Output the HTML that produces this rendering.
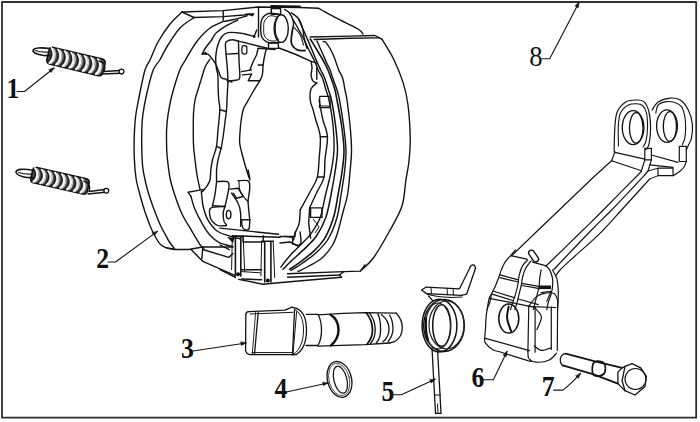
<!DOCTYPE html>
<html><head><meta charset="utf-8"><style>
html,body{margin:0;padding:0;background:#fff;}
body{width:700px;height:422px;overflow:hidden;}
svg{display:block;}
text{font-family:"Liberation Serif",serif;}
</style></head><body>
<svg width="700" height="422" viewBox="0 0 700 422" stroke-linecap="round" stroke-linejoin="round">
<rect x="0" y="0" width="700" height="422" fill="#fff"/>
<rect x="2.0" y="2.0" width="694.2" height="415.7" fill="none" stroke="#303030" stroke-width="1.8"/>
<text transform="translate(6.46,98.35) scale(0.92,1.05)" x="0" y="0" font-family="Liberation Serif" font-weight="bold" font-size="28" fill="#111">1</text>
<text transform="translate(96.28,267.85) scale(0.92,1.05)" x="0" y="0" font-family="Liberation Serif" font-weight="bold" font-size="28" fill="#111">2</text>
<text transform="translate(181.08,357.65) scale(0.92,1.05)" x="0" y="0" font-family="Liberation Serif" font-weight="bold" font-size="28" fill="#111">3</text>
<text transform="translate(274.50,398.25) scale(0.92,1.05)" x="0" y="0" font-family="Liberation Serif" font-weight="bold" font-size="28" fill="#111">4</text>
<text transform="translate(381.58,401.25) scale(0.92,1.05)" x="0" y="0" font-family="Liberation Serif" font-weight="bold" font-size="28" fill="#111">5</text>
<text transform="translate(471.38,387.45) scale(0.92,1.05)" x="0" y="0" font-family="Liberation Serif" font-weight="bold" font-size="28" fill="#111">6</text>
<text transform="translate(541.66,396.25) scale(0.92,1.05)" x="0" y="0" font-family="Liberation Serif" font-weight="bold" font-size="28" fill="#111">7</text>
<text transform="translate(529.25,66.25) scale(0.95,1.05)" x="0" y="0" font-family="Liberation Serif" font-weight="normal" font-size="28" fill="#111">8</text>
<path d="M17.0,91.5 L24.5,91.5 L54.0,68.0" stroke="#141414" stroke-width="1.1" fill="none" />
<path d="M54.0,68.0 L51.1,72.4 L49.0,69.8Z" fill="#111" stroke="#111" stroke-width="0.6"/>
<path d="M108.0,262.0 L115.5,262.0 L157.4,231.4" stroke="#141414" stroke-width="1.1" fill="none" />
<path d="M157.4,231.4 L154.4,235.7 L152.4,233.0Z" fill="#111" stroke="#111" stroke-width="0.6"/>
<path d="M193.0,351.0 L246.0,343.0" stroke="#141414" stroke-width="1.1" fill="none" />
<path d="M246.0,343.0 L241.3,345.4 L240.8,342.1Z" fill="#111" stroke="#111" stroke-width="0.6"/>
<path d="M286.4,392.0 L327.9,383.0" stroke="#141414" stroke-width="1.1" fill="none" />
<path d="M327.9,383.0 L323.4,385.7 L322.7,382.4Z" fill="#111" stroke="#111" stroke-width="0.6"/>
<path d="M392.8,394.7 L401.3,394.7 L435.1,379.3" stroke="#141414" stroke-width="1.1" fill="none" />
<path d="M435.1,379.3 L431.3,382.9 L429.8,379.8Z" fill="#111" stroke="#111" stroke-width="0.6"/>
<path d="M483.5,379.8 L493.4,379.8 L507.0,351.4" stroke="#141414" stroke-width="1.1" fill="none" />
<path d="M507.0,351.4 L506.4,356.6 L503.3,355.2Z" fill="#111" stroke="#111" stroke-width="0.6"/>
<path d="M553.6,390.1 L562.9,390.1 Q571,384 580.5,373.4" stroke="#141414" stroke-width="1.1" fill="none" />
<path d="M580.5,373.4 L578.4,378.3 L575.9,376.0Z" fill="#111" stroke="#111" stroke-width="0.6"/>
<path d="M541.7,58.7 L549.7,58.7 L579.0,2.5" stroke="#141414" stroke-width="1.1" fill="none" />
<path d="M579.0,2.5 L578.2,7.7 L575.2,6.1Z" fill="#111" stroke="#111" stroke-width="0.6"/>
<g transform="translate(48,54.9) rotate(13.4)"><rect x="0" y="-8.5" width="57.5" height="17" rx="3.5" fill="#4a4a4a" stroke="#111" stroke-width="1.6"/><path d="M1.7,-7.3 C6.8,-3.8 6.8,3.8 3.4,7.3" fill="none" stroke="#f6f6f6" stroke-width="2.3"/><path d="M3.8,-7.5 C8.4,-3.8 8.4,3.8 5.2,7.5" fill="none" stroke="#cfcfcf" stroke-width="1.1"/><path d="M0.0,-7.3 C4.4,-3.8 4.4,3.8 1.2,7.3" fill="none" stroke="#111" stroke-width="1.0"/><path d="M8.5,-7.3 C13.6,-3.8 13.6,3.8 10.2,7.3" fill="none" stroke="#f6f6f6" stroke-width="2.3"/><path d="M10.6,-7.5 C15.2,-3.8 15.2,3.8 12.0,7.5" fill="none" stroke="#cfcfcf" stroke-width="1.1"/><path d="M6.8,-7.3 C11.2,-3.8 11.2,3.8 8.0,7.3" fill="none" stroke="#111" stroke-width="1.0"/><path d="M15.3,-7.3 C20.4,-3.8 20.4,3.8 17.0,7.3" fill="none" stroke="#f6f6f6" stroke-width="2.3"/><path d="M17.4,-7.5 C22.0,-3.8 22.0,3.8 18.8,7.5" fill="none" stroke="#cfcfcf" stroke-width="1.1"/><path d="M13.6,-7.3 C18.0,-3.8 18.0,3.8 14.8,7.3" fill="none" stroke="#111" stroke-width="1.0"/><path d="M22.1,-7.3 C27.2,-3.8 27.2,3.8 23.8,7.3" fill="none" stroke="#f6f6f6" stroke-width="2.3"/><path d="M24.2,-7.5 C28.8,-3.8 28.8,3.8 25.6,7.5" fill="none" stroke="#cfcfcf" stroke-width="1.1"/><path d="M20.4,-7.3 C24.8,-3.8 24.8,3.8 21.6,7.3" fill="none" stroke="#111" stroke-width="1.0"/><path d="M28.9,-7.3 C34.0,-3.8 34.0,3.8 30.6,7.3" fill="none" stroke="#f6f6f6" stroke-width="2.3"/><path d="M31.1,-7.5 C35.6,-3.8 35.6,3.8 32.5,7.5" fill="none" stroke="#cfcfcf" stroke-width="1.1"/><path d="M27.2,-7.3 C31.6,-3.8 31.6,3.8 28.4,7.3" fill="none" stroke="#111" stroke-width="1.0"/><path d="M35.8,-7.3 C40.9,-3.8 40.9,3.8 37.5,7.3" fill="none" stroke="#f6f6f6" stroke-width="2.3"/><path d="M37.9,-7.5 C42.5,-3.8 42.5,3.8 39.3,7.5" fill="none" stroke="#cfcfcf" stroke-width="1.1"/><path d="M34.1,-7.3 C38.5,-3.8 38.5,3.8 35.3,7.3" fill="none" stroke="#111" stroke-width="1.0"/><path d="M42.6,-7.3 C47.7,-3.8 47.7,3.8 44.3,7.3" fill="none" stroke="#f6f6f6" stroke-width="2.3"/><path d="M44.7,-7.5 C49.3,-3.8 49.3,3.8 46.1,7.5" fill="none" stroke="#cfcfcf" stroke-width="1.1"/><path d="M40.9,-7.3 C45.3,-3.8 45.3,3.8 42.1,7.3" fill="none" stroke="#111" stroke-width="1.0"/><path d="M49.4,-7.3 C54.5,-3.8 54.5,3.8 51.1,7.3" fill="none" stroke="#f6f6f6" stroke-width="2.3"/><path d="M51.5,-7.5 C56.1,-3.8 56.1,3.8 52.9,7.5" fill="none" stroke="#cfcfcf" stroke-width="1.1"/><path d="M47.7,-7.3 C52.1,-3.8 52.1,3.8 48.9,7.3" fill="none" stroke="#111" stroke-width="1.0"/></g>
<g transform="translate(31.7,174.4) rotate(12.8)"><rect x="0" y="-7.8" width="58" height="15.6" rx="3.5" fill="#4a4a4a" stroke="#111" stroke-width="1.6"/><path d="M1.7,-6.6 C6.8,-3.5 6.8,3.5 3.4,6.6" fill="none" stroke="#f6f6f6" stroke-width="2.3"/><path d="M3.8,-6.8 C8.4,-3.5 8.4,3.5 5.2,6.8" fill="none" stroke="#cfcfcf" stroke-width="1.1"/><path d="M0.0,-6.6 C4.4,-3.5 4.4,3.5 1.2,6.6" fill="none" stroke="#111" stroke-width="1.0"/><path d="M8.6,-6.6 C13.7,-3.5 13.7,3.5 10.3,6.6" fill="none" stroke="#f6f6f6" stroke-width="2.3"/><path d="M10.7,-6.8 C15.3,-3.5 15.3,3.5 12.1,6.8" fill="none" stroke="#cfcfcf" stroke-width="1.1"/><path d="M6.9,-6.6 C11.3,-3.5 11.3,3.5 8.1,6.6" fill="none" stroke="#111" stroke-width="1.0"/><path d="M15.4,-6.6 C20.5,-3.5 20.5,3.5 17.1,6.6" fill="none" stroke="#f6f6f6" stroke-width="2.3"/><path d="M17.6,-6.8 C22.1,-3.5 22.1,3.5 18.9,6.8" fill="none" stroke="#cfcfcf" stroke-width="1.1"/><path d="M13.8,-6.6 C18.1,-3.5 18.1,3.5 14.9,6.6" fill="none" stroke="#111" stroke-width="1.0"/><path d="M22.3,-6.6 C27.4,-3.5 27.4,3.5 24.0,6.6" fill="none" stroke="#f6f6f6" stroke-width="2.3"/><path d="M24.4,-6.8 C29.0,-3.5 29.0,3.5 25.8,6.8" fill="none" stroke="#cfcfcf" stroke-width="1.1"/><path d="M20.6,-6.6 C25.0,-3.5 25.0,3.5 21.8,6.6" fill="none" stroke="#111" stroke-width="1.0"/><path d="M29.2,-6.6 C34.3,-3.5 34.3,3.5 30.9,6.6" fill="none" stroke="#f6f6f6" stroke-width="2.3"/><path d="M31.3,-6.8 C35.9,-3.5 35.9,3.5 32.7,6.8" fill="none" stroke="#cfcfcf" stroke-width="1.1"/><path d="M27.5,-6.6 C31.9,-3.5 31.9,3.5 28.7,6.6" fill="none" stroke="#111" stroke-width="1.0"/><path d="M36.1,-6.6 C41.2,-3.5 41.2,3.5 37.8,6.6" fill="none" stroke="#f6f6f6" stroke-width="2.3"/><path d="M38.2,-6.8 C42.8,-3.5 42.8,3.5 39.6,6.8" fill="none" stroke="#cfcfcf" stroke-width="1.1"/><path d="M34.4,-6.6 C38.8,-3.5 38.8,3.5 35.6,6.6" fill="none" stroke="#111" stroke-width="1.0"/><path d="M43.0,-6.6 C48.1,-3.5 48.1,3.5 44.7,6.6" fill="none" stroke="#f6f6f6" stroke-width="2.3"/><path d="M45.1,-6.8 C49.7,-3.5 49.7,3.5 46.5,6.8" fill="none" stroke="#cfcfcf" stroke-width="1.1"/><path d="M41.2,-6.6 C45.7,-3.5 45.7,3.5 42.5,6.6" fill="none" stroke="#111" stroke-width="1.0"/><path d="M49.8,-6.6 C54.9,-3.5 54.9,3.5 51.5,6.6" fill="none" stroke="#f6f6f6" stroke-width="2.3"/><path d="M51.9,-6.8 C56.5,-3.5 56.5,3.5 53.3,6.8" fill="none" stroke="#cfcfcf" stroke-width="1.1"/><path d="M48.1,-6.6 C52.5,-3.5 52.5,3.5 49.3,6.6" fill="none" stroke="#111" stroke-width="1.0"/></g>
<path d="M50,55.5 C44,56 35,54.5 33,51 C32.5,47.5 42,47.5 50,48.5" stroke="#141414" stroke-width="1.6" fill="none" />
<path d="M49,52 C44,52.3 38,51.5 35.5,50.5" stroke="#141414" stroke-width="1.1" fill="none" />
<path d="M99,61 C104,62 106,66 104,71.5 L120,70.5" stroke="#141414" stroke-width="1.4" fill="none" />
<path d="M102,74 L120.5,73.2" stroke="#141414" stroke-width="1.4" fill="none" />
<circle cx="121.5" cy="71.6" r="2.4" fill="#fff" stroke="#111" stroke-width="1.3"/>
<path d="M33,177.5 C27,178 18,176.5 16,172.5 C15.5,168.5 25,168.8 33,170.3" stroke="#141414" stroke-width="1.6" fill="none" />
<path d="M32,174 C27,174.3 21,173.3 18.5,172.5" stroke="#141414" stroke-width="1.1" fill="none" />
<path d="M84,181 C89,183 91,187 89,191.5 L104.5,189.5" stroke="#141414" stroke-width="1.4" fill="none" />
<path d="M88,194 L105,192.2" stroke="#141414" stroke-width="1.4" fill="none" />
<circle cx="106.3" cy="190.8" r="2.4" fill="#fff" stroke="#111" stroke-width="1.3"/>
<g transform="translate(339.5,379.4) rotate(-14)"><ellipse cx="0" cy="0" rx="12" ry="18.2" fill="none" stroke="#111" stroke-width="1.3"/><ellipse cx="-0.3" cy="0" rx="10.2" ry="16.4" fill="none" stroke="#333" stroke-width="0.8"/><ellipse cx="0.8" cy="0.5" rx="6.5" ry="13.8" fill="none" stroke="#111" stroke-width="1.2"/></g>
<path d="M248.5,311.6 Q245.8,311.8 245.8,315 L245.6,350 Q246,354.6 251,354.7" stroke="#141414" stroke-width="1.3" fill="none" />
<path d="M258.2,312.5 L254.5,354.5" stroke="#141414" stroke-width="1.3" fill="none" />
<path d="M255.6,312.5 L252.3,354" stroke="#141414" stroke-width="0.9" fill="none" />
<path d="M296.6,311.8 L292.9,355.5" stroke="#141414" stroke-width="1.0" fill="none" />
<path d="M248.5,311.6 L285,310.2 L292,307.2 L296.4,308.3" stroke="#141414" stroke-width="1.3" fill="none" />
<path d="M250,314 L293,312.3" stroke="#141414" stroke-width="1.0" fill="none" />
<path d="M252,352.6 L293,352.6" stroke="#141414" stroke-width="1.0" fill="none" />
<path d="M251,354.7 L296,354.7" stroke="#141414" stroke-width="1.3" fill="none" />
<path d="M294.5,310.5 L292.5,354.2" stroke="#141414" stroke-width="1.3" fill="none" />
<path d="M296.4,308.3 C303,311 306.5,318 306.5,330 C306.5,343 302,351 296,354.7" stroke="#141414" stroke-width="1.3" fill="none" />
<path d="M294,309 C300,312 303.5,319 303.5,330 C303.5,342 299.5,350 294,354" stroke="#141414" stroke-width="1.0" fill="none" />
<path d="M306.3,314.3 L318,314.3 C320.5,319 321.5,324 321.5,330 C321.5,336 320.5,341 318,345.5 L306,345.5" stroke="#141414" stroke-width="1.3" fill="none" />
<path d="M318,314.9 L343,313.4 L364.7,312.6 L396.2,313.2" stroke="#141414" stroke-width="1.3" fill="none" />
<path d="M318,346.2 L364.7,344.7 L389.6,343" stroke="#141414" stroke-width="1.3" fill="none" />
<path d="M330.5,314.8 C336,318 338.5,324 338.5,330 C338.5,336 336,341 331,345.5" stroke="#141414" stroke-width="2.4" fill="none" />
<path d="M366.4,313 C370.5,318 372.5,324 372.5,330 C372.5,336 370.5,340 367.5,343.5" stroke="#141414" stroke-width="1.8" fill="none" />
<path d="M369.5,313.2 C373.5,318 375.2,324 375.2,330 C375.2,336 373.5,340 370.5,343.5" stroke="#141414" stroke-width="1.3" fill="none" />
<path d="M377.8,313.6 C380,318 380.6,324 380.6,330 C380.6,336 379,340 376.3,343" stroke="#141414" stroke-width="1.3" fill="none" />
<path d="M381.3,314.5 C386,318 389,323 389,329 C389,335 386.5,339 383,341.8" stroke="#141414" stroke-width="1.3" fill="none" />
<path d="M389.6,315 C392,319 393,324 393,329 C393,334 391,338 388,341.8" stroke="#141414" stroke-width="1.3" fill="none" />
<path d="M396.2,313.2 C400,317 402.3,322 402.3,328 C402.3,334 399,339 394.6,341.6 L389.6,343" stroke="#141414" stroke-width="1.3" fill="none" />
<path d="M426,287.2 L459.5,288.8 L470.3,267" stroke="#141414" stroke-width="1.3" fill="none" />
<path d="M426.5,293.6 L461.5,295.4" stroke="#141414" stroke-width="1.3" fill="none" />
<path d="M461.5,295.4 L466.6,294.2 L475.5,268.2" stroke="#141414" stroke-width="1.3" fill="none" />
<path d="M470.3,267 C471,264 475,264 475.5,268.2" stroke="#141414" stroke-width="1.3" fill="none" />
<path d="M426,287.2 L421.5,290 L426.5,293.6" stroke="#141414" stroke-width="1.3" fill="none" />
<path d="M431,287.6 L431.5,293.8" stroke="#141414" stroke-width="1.0" fill="none" />
<path d="M447,288.3 L447.5,294.8" stroke="#141414" stroke-width="1.0" fill="none" />
<path d="M453,288.6 L453.5,295" stroke="#141414" stroke-width="1.0" fill="none" />
<path d="M427,294 C432,296 440,297 452,297.5 L462,297" stroke="#141414" stroke-width="1.1" fill="none" />
<path d="M428.5,296 L433,301" stroke="#141414" stroke-width="1.2" fill="none" />
<ellipse cx="439.5" cy="325.6" rx="17.4" ry="26.4" fill="none" stroke="#111" stroke-width="1.5"/>
<ellipse cx="444" cy="325.5" rx="20.3" ry="26" fill="none" stroke="#111" stroke-width="1.5"/>
<ellipse cx="446.5" cy="325" rx="17.5" ry="24" fill="none" stroke="#222" stroke-width="1.2"/>
<ellipse cx="441.7" cy="325.5" rx="9" ry="20.8" fill="none" stroke="#111" stroke-width="1.5"/>
<ellipse cx="438" cy="326" rx="12.5" ry="23" fill="none" stroke="#222" stroke-width="1.2"/>
<path d="M426,318 C425.5,326 426,334 428,340" fill="none" stroke="#111" stroke-width="2.2"/>
<path d="M432,348 L435.5,413.3" stroke="#141414" stroke-width="1.3" fill="none" />
<path d="M437.5,349 L441,413.3" stroke="#141414" stroke-width="1.3" fill="none" />
<path d="M435.5,413.3 L441,413.3" stroke="#141414" stroke-width="1.3" fill="none" />
<path d="M437.5,404 L438,413" stroke="#141414" stroke-width="1.0" fill="none" />
<path d="M434.8,395 L440.5,395" stroke="#141414" stroke-width="1.0" fill="none" />
<path d="M182.0,12.0C180.0,14.0 174.0,19.0 170.0,24.0C166.0,29.0 161.3,36.0 158.0,42.0C154.7,48.0 152.2,55.3 150.0,60.0C147.8,64.7 146.8,64.2 145.0,70.0C143.2,75.8 141.0,87.5 139.5,95.0C138.0,102.5 136.7,108.3 135.8,115.0C134.9,121.7 134.6,127.8 134.3,135.0C134.1,142.2 134.0,150.8 134.3,158.0C134.6,165.2 135.1,171.8 136.0,178.0C136.9,184.2 138.5,189.3 140.0,195.0C141.5,200.7 143.2,206.5 145.0,212.0C146.8,217.5 149.2,223.7 151.0,228.0C152.8,232.3 154.4,235.2 156.0,238.0C157.6,240.8 158.8,242.9 160.5,244.5C162.2,246.1 164.1,247.0 166.5,247.8C168.9,248.6 173.6,249.0 175.0,249.2" stroke="#141414" stroke-width="1.4" fill="none" />
<path d="M194.0,17.5C191.7,19.2 184.3,23.4 180.0,28.0C175.7,32.6 171.4,39.7 168.0,45.0C164.6,50.3 162.3,55.8 159.8,60.0C157.3,64.2 155.4,64.2 153.2,70.0C151.0,75.8 148.3,87.0 146.5,95.0C144.7,103.0 143.3,110.5 142.5,118.0C141.7,125.5 141.7,132.2 141.7,140.0C141.7,147.8 141.9,158.0 142.5,165.0C143.1,172.0 144.4,177.0 145.5,182.0C146.6,187.0 147.4,190.0 149.0,195.0C150.6,200.0 153.1,206.9 155.0,212.0C156.9,217.1 158.8,221.8 160.5,225.5C162.2,229.2 163.6,231.4 165.0,234.0C166.4,236.6 167.3,238.7 168.8,241.0C170.3,243.3 173.1,246.8 174.0,248.0" stroke="#141414" stroke-width="1.4" fill="none" />
<path d="M182.0,12.0 L194.0,17.5" stroke="#141414" stroke-width="1.4" fill="none" />
<path d="M182.0,12.0 L223.0,10.6 L258.0,7.0 L280.0,7.2 L300.0,7.5 L318.2,8.3" stroke="#141414" stroke-width="1.4" fill="none" />
<path d="M318.2,8.3C318.8,8.6 318.6,8.3 321.6,10.0C324.7,11.7 330.4,15.0 336.5,18.2C342.6,21.4 353.6,26.4 358.0,29.0C362.4,31.6 362.2,33.2 363.0,34.0" stroke="#141414" stroke-width="1.4" fill="none" />
<path d="M194.0,17.5 L223.0,16.6 L244.0,15.0 L253.0,14.1" stroke="#141414" stroke-width="1.4" fill="none" />
<path d="M223.2,10.8 L223.2,20.7" stroke="#141414" stroke-width="1.4" fill="none" />
<path d="M224.0,21.4C225.7,21.1 230.2,20.4 234.0,19.5C237.8,18.6 244.8,16.3 247.0,15.7" stroke="#141414" stroke-width="1.4" fill="none" />
<path d="M244.5,13.5 L254.5,13.2 L253,16.6 Z" fill="#111"/>
<path d="M222.9,21.6C220.8,22.7 214.2,24.9 210.0,28.0C205.8,31.1 201.3,36.0 198.0,40.0C194.7,44.0 192.1,48.7 190.0,52.0C187.9,55.3 187.2,57.0 185.5,60.0C183.8,63.0 182.1,64.2 179.8,70.0C177.6,75.8 174.0,87.5 172.0,95.0C170.0,102.5 168.9,109.2 168.0,115.0C167.1,120.8 166.8,125.0 166.6,130.0C166.4,135.0 166.5,140.3 166.6,145.0C166.7,149.7 166.7,152.5 167.3,158.0C167.9,163.5 168.8,171.8 170.0,178.0C171.2,184.2 172.8,189.1 174.8,195.0C176.7,200.9 179.1,207.8 181.9,213.7C184.7,219.6 188.2,225.0 191.4,230.3C194.6,235.6 198.7,242.8 200.8,245.7C202.9,248.6 203.5,247.6 204.0,248.0" stroke="#141414" stroke-width="1.4" fill="none" />
<path d="M237.7,20.0C235.9,20.9 230.6,23.2 227.0,25.3C223.4,27.4 218.9,30.3 216.3,32.8C213.7,35.2 213.4,37.4 211.5,40.0C209.6,42.6 206.7,46.1 205.1,48.5C203.5,50.9 202.7,53.2 202.2,54.2" stroke="#141414" stroke-width="1.4" fill="none" />
<path d="M210.0,59.2C209.2,60.5 206.5,63.8 205.1,67.0C203.7,70.2 202.7,74.6 201.5,78.4C200.3,82.2 199.1,86.2 198.0,89.8C196.9,93.3 195.8,96.0 195.1,99.7C194.4,103.4 193.9,107.5 193.6,112.0C193.3,116.5 193.3,120.9 193.3,126.4C193.3,131.9 193.2,139.5 193.5,145.0C193.8,150.5 194.4,154.5 195.0,159.5C195.6,164.5 196.2,170.0 197.0,175.0C197.8,180.0 199.5,187.0 200.0,189.4" stroke="#141414" stroke-width="1.4" fill="none" />
<path d="M201.5,53.5 L206,51.8 L207.5,55 Z" fill="#111"/>
<path d="M202.2,54.2C203.1,54.2 206.1,53.2 207.9,54.2C209.7,55.2 211.5,58.0 212.9,59.9C214.3,61.8 215.5,63.7 216.4,65.6C217.3,67.5 217.8,69.3 218.6,71.3C219.4,73.3 220.1,76.4 221.4,77.7C222.7,79.0 225.6,78.9 226.4,79.1" stroke="#141414" stroke-width="1.4" fill="none" />
<path d="M226.4,79.8 L232.0,82.0" stroke="#141414" stroke-width="1.4" fill="none" />
<path d="M166.0,247.6 L174.1,249.5 L188.5,249.5 L202.8,247.0 L233.0,247.0" stroke="#141414" stroke-width="1.4" fill="none" />
<path d="M202.8,249.5 L228.8,257.4 L232.8,253.5" stroke="#141414" stroke-width="1.4" fill="none" />
<path d="M202.8,247.0 L201.8,259.0" stroke="#141414" stroke-width="1.4" fill="none" />
<path d="M191.0,249.5 L200.2,258.7 L202.8,261.3 L235.4,275.6" stroke="#141414" stroke-width="1.4" fill="none" />
<path d="M190.9,196.1C191.5,198.2 192.7,203.8 194.6,208.4C196.5,213.0 199.7,219.2 202.2,223.6C204.7,228.0 207.0,231.8 209.8,235.0C212.7,238.2 215.5,240.7 219.3,242.6C223.1,244.5 230.4,245.8 232.6,246.4" stroke="#141414" stroke-width="1.4" fill="none" />
<path d="M201.3,191.4C201.6,193.9 202.1,201.8 203.2,206.5C204.3,211.2 205.5,215.7 207.9,219.8C210.3,223.9 213.3,228.3 217.4,231.2C221.5,234.0 228.8,235.6 232.6,236.9C236.4,238.2 238.8,238.5 240.0,238.8" stroke="#141414" stroke-width="1.4" fill="none" />
<path d="M190.9,196.1 L188.0,192.3 L198.4,190.4 L203.2,189.5" stroke="#141414" stroke-width="1.4" fill="none" />
<path d="M227,237 L234.5,238 L233,243 Z" fill="#111"/>
<path d="M254.1,36.5C251.9,36.0 245.4,33.9 241.1,33.3C236.8,32.6 231.3,32.0 228.0,32.6C224.7,33.2 223.2,34.8 221.5,37.0C219.8,39.2 218.6,42.4 217.6,45.7C216.6,49.1 215.9,53.3 215.7,57.1C215.5,60.9 216.0,65.3 216.4,68.4C216.8,71.5 217.6,72.0 217.9,75.6C218.2,79.2 218.0,85.9 218.2,90.0C218.3,94.1 218.5,96.7 218.8,100.0C219.1,103.3 219.9,104.8 219.8,109.8C219.7,114.8 218.6,123.9 218.0,130.0C217.4,136.1 217.4,141.3 216.5,146.3C215.6,151.3 213.4,156.1 212.5,160.0C211.6,163.9 211.2,166.7 210.8,170.0C210.4,173.3 210.7,177.2 210.0,180.0C209.3,182.8 207.8,184.7 206.6,186.6C205.3,188.5 203.2,190.8 202.5,191.6" stroke="#141414" stroke-width="1.4" fill="none" />
<path d="M254.1,36.5 L256.7,30.0" stroke="#141414" stroke-width="1.4" fill="none" />
<circle cx="254.1" cy="36.5" r="1.4" fill="#111"/>
<path d="M228.0,82.2C227.9,80.0 227.7,73.7 227.4,69.1C227.1,64.6 226.4,58.9 226.1,54.8C225.8,50.7 225.3,46.6 225.4,44.3C225.5,42.1 225.7,42.2 226.7,41.5C227.8,40.7 230.0,39.8 232.0,39.8C233.9,39.7 237.4,40.9 238.5,41.1" stroke="#141414" stroke-width="1.4" fill="none" />
<path d="M238.5,41.1 L267.2,48.3" stroke="#141414" stroke-width="1.4" fill="none" />
<path d="M226.1,54.1 L237.8,53.5" stroke="#141414" stroke-width="1.4" fill="none" />
<path d="M238.5,42.4C238.6,45.8 238.9,57.3 239.1,62.6C239.3,67.9 239.9,71.5 239.8,74.3C239.7,77.2 240.4,78.5 238.5,79.6C236.5,80.6 229.8,80.6 228.0,80.9" stroke="#141414" stroke-width="1.4" fill="none" />
<rect x="241.9" y="45.7" width="5" height="8.4" rx="2.3" fill="none" stroke="#111" stroke-width="1.2"/>
<path d="M258.0,48.3 L275.0,49.6" stroke="#141414" stroke-width="1.4" fill="none" />
<path d="M228.0,82.2C227.8,85.2 227.2,95.4 227.0,100.0C226.8,104.6 227.0,104.8 226.5,109.8C226.0,114.8 224.8,123.9 224.0,130.0C223.2,136.1 222.5,141.3 221.5,146.3C220.5,151.3 218.8,156.1 218.0,160.0C217.2,163.9 216.8,166.4 216.6,170.0C216.4,173.6 216.6,179.7 216.6,181.6" stroke="#141414" stroke-width="1.4" fill="none" />
<path d="M219.8,109.8 L226.5,111.5" stroke="#141414" stroke-width="1.4" fill="none" />
<path d="M216.5,146.3 L221.5,148.5" stroke="#141414" stroke-width="1.4" fill="none" />
<path d="M266.5,48.5C266.2,49.6 265.4,52.2 264.8,55.0C264.2,57.8 263.5,61.7 263.1,65.0C262.7,68.3 262.9,72.3 262.3,74.9C261.8,77.5 261.3,77.9 259.8,80.7C258.3,83.5 255.4,87.8 253.2,91.5C251.0,95.2 248.3,100.1 246.6,103.1C244.9,106.1 244.1,106.9 243.2,109.7C242.3,112.5 241.7,116.6 241.2,120.0C240.7,123.4 240.4,126.2 240.2,130.0C239.9,133.8 239.3,138.7 239.7,143.0C240.1,147.3 241.5,151.6 242.6,156.0C243.7,160.4 245.3,165.9 246.4,169.5C247.5,173.1 248.4,175.8 249.0,177.6C249.6,179.3 249.8,179.6 250.0,180.0" stroke="#141414" stroke-width="1.4" fill="none" />
<path d="M241.6,71.6 L251.5,69.9" stroke="#141414" stroke-width="1.4" fill="none" />
<path d="M242.4,74.9 L251.5,74.1" stroke="#141414" stroke-width="1.4" fill="none" />
<path d="M249.9,69.9 L253.0,62.0 L256.5,55.0 L258.0,49.0" stroke="#141414" stroke-width="1.4" fill="none" />
<path d="M251.5,74.1 L248.2,80.7 L259.8,80.7" stroke="#141414" stroke-width="1.4" fill="none" />
<path d="M258.2,65.0 L263.1,65.0" stroke="#141414" stroke-width="1.4" fill="none" />
<path d="M279.0,48.0 L296.0,54.5 L311.1,61.3 L316.8,63.1" stroke="#141414" stroke-width="1.4" fill="none" />
<path d="M311.1,61.3C311.2,62.4 312.0,65.5 312.0,67.9C312.0,70.3 310.9,73.3 311.1,75.5C311.3,77.7 312.1,79.8 313.0,81.1C313.9,82.3 316.2,82.7 316.8,83.0" stroke="#141414" stroke-width="1.4" fill="none" />
<path d="M316.8,83.0C315.9,84.0 312.2,85.9 311.1,88.7C310.0,91.5 309.9,96.5 310.2,100.0C310.5,103.5 312.1,106.3 313.0,109.5C313.9,112.7 314.3,114.5 315.5,119.0C316.7,123.5 319.7,130.0 320.3,136.7C320.9,143.4 319.6,152.4 319.1,159.2C318.6,166.0 318.7,172.1 317.2,177.6C315.7,183.1 312.8,186.6 310.0,192.0C307.2,197.4 301.8,206.8 300.2,209.8" stroke="#141414" stroke-width="1.4" fill="none" />
<path d="M316.8,67.9 L316.8,79.2" stroke="#141414" stroke-width="1.4" fill="none" />
<path d="M319.1,100.0C319.7,103.2 321.3,112.9 322.7,119.0C324.1,125.1 327.0,130.0 327.4,136.7C327.8,143.4 325.6,152.4 325.0,159.2C324.4,166.0 325.2,172.1 323.9,177.6C322.6,183.1 319.4,186.9 317.0,192.0C314.6,197.1 310.8,205.2 309.6,207.9" stroke="#141414" stroke-width="1.4" fill="none" />
<path d="M320.3,136.7 L327.4,136.7" stroke="#141414" stroke-width="1.4" fill="none" />
<path d="M319.0,106.0 L329.8,106.0" stroke="#141414" stroke-width="1.0" fill="none" />
<path d="M317.9,177.0 L323.8,177.0" stroke="#141414" stroke-width="1.4" fill="none" />
<path d="M310.6,207.9 L322.0,207.9 L322.0,217.4 L310.6,217.4Z" stroke="#141414" stroke-width="1.4" fill="none" />
<path d="M300.2,209.8C300.0,212.0 300.0,219.3 299.2,223.1C298.4,226.9 296.3,229.8 295.4,232.6C294.4,235.4 293.8,238.8 293.5,240.1" stroke="#141414" stroke-width="1.4" fill="none" />
<path d="M285.0,236.4 L292.6,237.3 L292.6,243.9 L299.2,245.8" stroke="#141414" stroke-width="1.4" fill="none" />
<path d="M309.6,207.9 L308.7,223.1 L310.6,238.2" stroke="#141414" stroke-width="1.4" fill="none" />
<path d="M313.4,219.3 L319.1,226.9 L315.3,232.6" stroke="#141414" stroke-width="1.0" fill="none" />
<path d="M319.7,96.3 L330.1,96.3 L330.1,107.7 L319.7,107.7 Z" fill="none" stroke="#111" stroke-width="1.2"/>
<path d="M216.6,181.6C218.4,181.6 225.3,180.8 227.4,181.6C229.4,182.4 229.2,183.5 229.0,186.6C228.9,189.6 227.2,196.5 226.5,199.9C225.8,203.2 225.2,205.4 224.9,206.5" stroke="#141414" stroke-width="1.4" fill="none" />
<path d="M216.6,181.6C216.3,183.8 215.6,190.9 214.9,194.9C214.2,198.9 212.9,203.9 212.4,205.7" stroke="#141414" stroke-width="1.4" fill="none" />
<path d="M212.4,205.7 L224.9,206.5" stroke="#141414" stroke-width="1.4" fill="none" />
<path d="M224.9,206.5C222.5,206.8 213.3,206.5 210.8,208.1C208.3,209.8 209.7,214.2 210.0,216.4C210.2,218.6 211.1,219.9 212.4,221.4C213.8,222.9 215.9,224.9 218.2,225.6C220.6,226.2 225.2,225.6 226.5,225.6" stroke="#141414" stroke-width="1.4" fill="none" />
<path d="M224.9,206.5C224.6,207.6 223.4,210.6 223.2,213.1C223.1,215.6 223.5,219.5 224.0,221.4C224.6,223.3 226.1,224.2 226.5,224.7" stroke="#141414" stroke-width="1.4" fill="none" />
<ellipse cx="228.6" cy="214.6" rx="2.3" ry="4.2" fill="none" stroke="#111" stroke-width="1.4"/>
<path d="M229.9,189.1 L238.1,188.2 L243.1,196.5 L236.5,198.2 L233.2,193.2" stroke="#141414" stroke-width="1.4" fill="none" />
<path d="M231.5,193.2C232.6,194.9 236.6,199.9 238.1,203.2C239.7,206.5 240.2,209.2 240.6,213.1C241.0,217.0 240.6,224.2 240.6,226.4" stroke="#141414" stroke-width="1.4" fill="none" />
<path d="M238.1,180.8C239.8,180.8 246.2,179.8 248.1,180.8C250.0,181.7 249.6,184.2 249.8,186.6C249.9,188.9 249.2,192.4 248.9,194.9C248.6,197.4 248.1,198.7 248.1,201.5C248.1,204.3 248.6,208.4 248.9,211.5C249.2,214.5 249.6,218.4 249.8,219.8" stroke="#141414" stroke-width="1.4" fill="none" />
<path d="M239.0,181.6C239.1,183.0 238.8,187.1 239.8,189.9C240.8,192.7 243.4,196.3 244.8,198.2C246.2,200.1 247.5,201.0 248.1,201.5" stroke="#141414" stroke-width="1.1" fill="none" />
<path d="M241.5,219.8 L249.8,219.8" stroke="#141414" stroke-width="1.4" fill="none" />
<path d="M241.5,219.8C241.6,220.9 241.7,224.7 242.3,226.4C242.8,228.0 243.7,229.3 244.8,229.7C245.9,230.1 248.1,230.5 248.9,228.9C249.8,227.2 249.6,221.3 249.8,219.8" stroke="#141414" stroke-width="1.4" fill="none" />
<path d="M248.1,170.0 L249.8,178.3" stroke="#141414" stroke-width="1.4" fill="none" />
<path d="M278.0,14.0C276.4,13.9 271.2,12.7 268.5,13.5C265.8,14.3 263.3,16.5 262.0,19.0C260.7,21.5 260.7,25.3 260.7,28.4C260.7,31.5 260.7,35.1 262.0,37.5C263.3,39.9 265.8,41.8 268.5,42.7C271.2,43.6 276.4,43.0 278.0,43.0" stroke="#141414" stroke-width="1.4" fill="none" />
<path d="M276.0,16.5C274.9,16.4 271.4,15.2 269.5,16.0C267.6,16.8 265.5,18.9 264.5,21.0C263.5,23.1 263.7,25.9 263.7,28.4C263.7,30.9 263.5,34.0 264.5,36.0C265.5,38.0 267.6,39.7 269.5,40.5C271.4,41.3 274.9,40.9 276.0,41.0" stroke="#141414" stroke-width="1.0" fill="none" />
<ellipse cx="281.2" cy="28.6" rx="7.1" ry="13.8" fill="none" stroke="#111" stroke-width="1.4"/>
<path d="M278.0,17.0C277.6,17.8 276.2,20.1 275.8,22.0C275.4,23.9 275.3,26.3 275.3,28.5C275.3,30.7 275.5,33.1 276.0,35.0C276.5,36.9 278.1,39.2 278.5,40.0" stroke="#141414" stroke-width="1.1" fill="none" />
<path d="M271.3,8.5 L280.6,8.5 L280.6,14.2 L271.3,14.2Z" stroke="#141414" stroke-width="1.4" fill="none" />
<path d="M268.5,42.7 L278.4,42.7 L278.4,48.4 L268.5,48.4Z" stroke="#141414" stroke-width="1.4" fill="none" />
<path d="M258.5,7.0 L258.5,37.0" stroke="#141414" stroke-width="1.4" fill="none" />
<path d="M271.3,5.9 L299.8,6.4" stroke="#141414" stroke-width="2.0" fill="none" />
<path d="M291.3,12.8C292.5,13.8 296.5,15.9 298.4,18.5C300.3,21.1 301.7,25.3 302.6,28.4C303.5,31.5 303.3,33.7 304.0,37.0C304.7,40.3 306.4,46.5 306.9,48.4" stroke="#141414" stroke-width="1.4" fill="none" />
<path d="M292.7,28.4C292.5,30.8 290.6,39.1 291.3,42.7C292.0,46.3 294.7,48.5 297.0,49.8C299.3,51.1 303.7,50.4 305.0,50.5" stroke="#141414" stroke-width="1.8" fill="none" />
<path d="M293.5,27.0C294.6,28.2 298.1,31.1 299.8,34.1C301.5,37.1 302.9,43.2 303.5,45.0" stroke="#141414" stroke-width="1.1" fill="none" />
<path d="M284.7,9.5C285.5,10.1 288.0,10.9 289.5,13.0C291.0,15.1 293.0,19.4 293.5,22.0C294.0,24.6 292.8,27.3 292.7,28.4" stroke="#141414" stroke-width="1.4" fill="none" />
<path d="M293.3,20.0C294.9,22.8 300.1,32.0 302.7,37.0C305.3,42.0 306.9,45.8 309.0,50.0C311.1,54.2 313.5,58.7 315.0,62.0C316.5,65.3 316.9,67.3 318.1,70.0C319.3,72.7 321.1,74.7 322.4,78.0C323.7,81.3 324.9,86.3 326.0,90.0C327.1,93.7 327.8,94.2 329.0,100.0C330.2,105.8 332.2,116.7 333.0,125.0C333.8,133.3 334.3,142.2 334.0,150.0C333.7,157.8 332.4,164.5 331.0,172.0C329.6,179.5 327.3,187.4 325.5,195.0C323.7,202.6 322.6,211.1 320.2,217.5C317.8,223.9 314.4,228.8 311.2,233.3C308.0,237.8 304.6,240.8 301.0,244.5C297.4,248.2 293.2,252.0 289.8,255.8C286.4,259.6 282.3,265.2 280.8,267.1" stroke="#141414" stroke-width="1.4" fill="none" />
<path d="M299.0,20.0C300.2,22.8 304.3,32.0 306.5,37.0C308.7,42.0 310.2,45.8 312.0,50.0C313.8,54.2 315.6,58.7 317.0,62.0C318.4,65.3 319.4,67.3 320.7,70.0C322.0,72.7 323.3,74.7 324.6,78.0C325.9,81.3 327.4,86.3 328.5,90.0C329.6,93.7 330.3,94.2 331.5,100.0C332.7,105.8 334.5,116.7 335.5,125.0C336.5,133.3 337.6,142.2 337.5,150.0C337.4,157.8 336.1,164.5 335.0,172.0C333.9,179.5 332.5,187.4 331.0,195.0C329.5,202.6 328.2,210.8 325.8,217.5C323.4,224.2 320.2,230.4 316.8,235.5C313.4,240.6 309.6,243.8 305.5,247.9C301.4,252.0 295.8,256.7 292.0,260.3C288.2,263.9 284.5,267.8 283.0,269.3" stroke="#141414" stroke-width="1.5" fill="none" />
<path d="M310.3,39.0C311.4,40.8 314.7,46.2 317.0,50.0C319.3,53.8 322.3,58.7 324.1,62.0C325.9,65.3 326.9,67.3 328.0,70.0C329.1,72.7 329.8,74.7 331.0,78.0C332.2,81.3 334.0,86.3 335.0,90.0C336.0,93.7 335.9,94.2 337.0,100.0C338.1,105.8 340.3,116.7 341.5,125.0C342.7,133.3 343.9,142.2 344.0,150.0C344.1,157.8 343.0,164.5 342.0,172.0C341.0,179.5 339.4,187.4 338.0,195.0C336.6,202.6 335.7,210.4 333.5,217.5C331.3,224.6 328.3,232.2 325.0,237.8C321.7,243.4 317.8,247.2 313.5,251.3C309.2,255.4 303.5,259.6 299.5,262.6C295.5,265.6 291.2,268.2 289.5,269.3" stroke="#141414" stroke-width="1.6" fill="none" />
<path d="M317.0,41.0C317.7,42.5 319.4,46.5 321.0,50.0C322.6,53.5 324.8,58.7 326.3,62.0C327.8,65.3 329.0,67.3 330.1,70.0C331.2,72.7 331.6,74.7 332.7,78.0C333.8,81.3 335.9,86.3 337.0,90.0C338.1,93.7 338.4,94.2 339.5,100.0C340.6,105.8 342.4,116.7 343.5,125.0C344.6,133.3 345.8,142.2 346.0,150.0C346.2,157.8 345.3,164.5 344.5,172.0C343.7,179.5 342.2,187.4 341.0,195.0C339.8,202.6 339.1,210.2 337.0,217.5C334.9,224.8 331.8,232.8 328.5,238.5C325.2,244.2 321.4,247.8 317.0,252.0C312.6,256.2 306.3,260.4 302.0,263.5C297.7,266.6 292.8,269.3 291.0,270.5" stroke="#141414" stroke-width="1.4" fill="none" />
<path d="M323.2,41.5C323.8,41.8 324.8,40.9 326.5,43.1C328.2,45.3 331.2,50.2 333.2,54.7C335.2,59.2 337.1,66.1 338.7,70.0C340.3,73.9 341.6,74.7 342.6,78.0C343.7,81.3 344.3,86.3 345.0,90.0C345.7,93.7 346.2,94.2 347.0,100.0C347.8,105.8 349.2,116.7 350.0,125.0C350.8,133.3 351.5,142.2 351.5,150.0C351.5,157.8 350.7,164.5 350.0,172.0C349.3,179.5 348.7,188.3 347.5,195.0C346.3,201.7 344.6,205.8 343.0,212.0C341.4,218.2 339.5,226.5 337.8,232.0C336.1,237.5 335.2,240.7 332.6,245.0C330.0,249.3 325.9,254.5 322.0,258.0C318.1,261.5 313.0,263.8 309.0,266.0C305.0,268.2 299.8,270.6 298.0,271.5" stroke="#141414" stroke-width="1.4" fill="none" />
<path d="M310.3,37.0 L350.0,36.1 L374.8,35.5 L381.9,39.1" stroke="#141414" stroke-width="1.4" fill="none" />
<path d="M314.1,39.5 L350.0,38.3 L379.5,37.9" stroke="#141414" stroke-width="1.4" fill="none" />
<path d="M381.9,39.1C383.9,42.5 390.1,51.9 393.7,59.2C397.2,66.5 400.8,75.3 403.2,82.9C405.6,90.5 406.8,95.9 408.0,105.0C409.2,114.1 410.0,128.1 410.2,137.4C410.4,146.7 409.7,153.9 409.0,161.0C408.3,168.1 407.1,172.5 405.9,180.0C404.7,187.5 404.8,197.3 402.0,206.0C399.2,214.7 393.8,223.3 389.0,232.0C384.2,240.7 378.1,251.5 373.3,258.0C368.5,264.5 362.5,268.9 360.3,271.1" stroke="#141414" stroke-width="1.4" fill="none" />
<path d="M365.0,264.8 L360.3,271.1 L343.8,271.6 L287.5,273.8" stroke="#141414" stroke-width="1.4" fill="none" />
<path d="M343.8,271.6 L339.3,275.0 L287.5,277.2" stroke="#141414" stroke-width="1.4" fill="none" />
<path d="M339.3,275.0 L341.6,277.2 L278.5,282.8 L263.0,284.2 L238.7,279.4" stroke="#141414" stroke-width="1.4" fill="none" />
<path d="M280.0,236.5 L295.0,236.5 L295.0,232.0" stroke="#141414" stroke-width="1.4" fill="none" />
<path d="M300.0,232.0C300.2,233.7 301.2,239.8 301.0,242.0C300.8,244.2 299.3,244.5 299.0,245.0" stroke="#141414" stroke-width="1.4" fill="none" />
<path d="M280.0,243.0 L290.0,242.0 L298.0,246.0" stroke="#141414" stroke-width="1.4" fill="none" />
<path d="M220.0,228.1 L278.6,234.3" stroke="#141414" stroke-width="1.4" fill="none" />
<path d="M232.3,235.8 L280.1,237.3" stroke="#141414" stroke-width="1.4" fill="none" />
<path d="M243.1,235.8 L243.1,242.0 L263.2,242.0 L263.2,235.8" stroke="#141414" stroke-width="1.4" fill="none" />
<path d="M235.4,237.3 L235.4,275.9" stroke="#141414" stroke-width="1.6" fill="none" />
<path d="M240.8,237.3 L240.8,275.9" stroke="#141414" stroke-width="1.6" fill="none" />
<path d="M232.3,236.6 L243.1,236.6" stroke="#141414" stroke-width="1.4" fill="none" />
<path d="M232.3,236.6 L231.6,269.7" stroke="#141414" stroke-width="1.0" fill="none" />
<path d="M243.1,236.6 L244.7,271.3" stroke="#141414" stroke-width="1.0" fill="none" />
<circle cx="238.1" cy="274.3" r="2" fill="#111"/>
<path d="M264.7,242.0 L264.7,282.0" stroke="#141414" stroke-width="1.6" fill="none" />
<path d="M270.9,242.0 L270.9,282.0" stroke="#141414" stroke-width="1.6" fill="none" />
<path d="M261.6,241.2 L273.2,241.2" stroke="#141414" stroke-width="1.4" fill="none" />
<path d="M261.6,241.2 L260.9,275.9" stroke="#141414" stroke-width="1.0" fill="none" />
<path d="M273.2,241.2 L274.7,277.4" stroke="#141414" stroke-width="1.0" fill="none" />
<circle cx="267.8" cy="280.5" r="2" fill="#111"/>
<path d="M241.6,269.7 L261.6,269.7" stroke="#141414" stroke-width="1.4" fill="none" />
<path d="M241.6,271.6 L260.1,272.8" stroke="#141414" stroke-width="1.0" fill="none" />
<path d="M241.6,279.0 L261.6,279.7" stroke="#141414" stroke-width="1.4" fill="none" />
<path d="M220.0,245.0 L229.3,249.7" stroke="#141414" stroke-width="1.4" fill="none" />
<path d="M220.0,269.7 L235.4,277.4" stroke="#141414" stroke-width="1.4" fill="none" />
<path d="M652.1,110.1C653.1,108.8 655.1,104.1 658.1,102.1C661.1,100.1 666.5,98.4 670.2,98.1C673.9,97.8 677.3,98.1 680.3,100.1C683.3,102.1 686.3,106.1 688.3,110.1C690.3,114.1 691.9,119.5 692.4,124.2C692.9,128.9 692.1,134.8 691.4,138.3C690.7,141.8 689.1,143.5 688.3,145.4C687.4,147.3 686.6,149.2 686.3,150.0" stroke="#141414" stroke-width="1.2" fill="none" />
<path d="M655.8,113.2C656.2,111.8 656.4,106.9 658.2,105.0C660.0,103.1 663.7,102.0 666.5,101.6C669.3,101.2 672.3,101.7 674.8,102.5C677.3,103.3 679.8,104.2 681.5,106.6C683.2,108.9 684.1,113.0 684.8,116.6C685.5,120.2 685.6,124.6 685.6,128.2C685.6,131.8 685.3,135.3 684.8,138.1C684.2,140.9 682.7,143.7 682.3,144.8" stroke="#141414" stroke-width="1.1" fill="none" />
<ellipse cx="667" cy="126.1" rx="10.4" ry="16.2" fill="none" stroke="#111" stroke-width="1.3"/>
<ellipse cx="669.9" cy="126.5" rx="6.6" ry="14.9" fill="none" stroke="#111" stroke-width="1.3"/>
<path d="M679.3,146.4 L686.3,146.4 L686.3,161.5 L679.3,161.5Z" stroke="#141414" stroke-width="1.2" fill="none" />
<path d="M686.3,161.5C685.9,162.4 685.2,165.2 684.0,167.0C682.8,168.8 680.8,170.6 679.0,172.0C677.2,173.4 674.0,175.1 673.0,175.7" stroke="#141414" stroke-width="1.2" fill="none" />
<path d="M614.1,151.3C614.2,147.2 614.4,133.1 614.9,126.5C615.4,119.9 615.5,115.8 617.4,111.6C619.3,107.4 623.3,103.5 626.5,101.6C629.7,99.7 633.6,100.0 636.5,100.0C639.4,100.0 641.8,99.7 643.9,101.6C646.0,103.5 647.8,107.2 648.9,111.6C650.0,116.0 650.6,122.6 650.6,128.1C650.6,133.6 649.7,141.1 648.9,144.7C648.1,148.3 646.1,148.9 645.6,149.7" stroke="#141414" stroke-width="1.2" fill="#fff" />
<path d="M618.5,146.0C618.5,142.7 618.0,131.5 618.3,126.0C618.6,120.5 618.9,116.5 620.5,113.0C622.1,109.5 625.3,106.7 628.0,105.2C630.7,103.7 634.1,103.8 636.5,103.8C638.9,103.8 640.8,104.0 642.5,105.5C644.2,107.0 645.7,109.2 646.5,113.0C647.3,116.8 647.6,123.3 647.5,128.0C647.4,132.7 646.8,137.8 646.0,141.0C645.2,144.2 643.5,146.0 643.0,147.0" stroke="#141414" stroke-width="1.1" fill="none" />
<ellipse cx="633.1" cy="127.7" rx="10.8" ry="17" fill="none" stroke="#111" stroke-width="1.3"/>
<ellipse cx="636.2" cy="127.9" rx="6.8" ry="15.2" fill="none" stroke="#111" stroke-width="1.3"/>
<path d="M644.8,148.3 L651.4,148.3 L651.4,159.9 L644.8,159.9Z" stroke="#141414" stroke-width="1.2" fill="none" />
<path d="M614.9,151.6 L611.6,160.7" stroke="#141414" stroke-width="1.2" fill="none" />
<path d="M614.9,152.4 L644.8,159.1" stroke="#141414" stroke-width="1.2" fill="none" />
<path d="M611.6,160.7 L641.4,170.7" stroke="#141414" stroke-width="1.2" fill="none" />
<path d="M651.4,155.0 L677.9,162.4" stroke="#141414" stroke-width="1.2" fill="none" />
<path d="M649.7,164.9 L673.0,167.4" stroke="#141414" stroke-width="1.2" fill="none" />
<path d="M658.0,168.2 L673.0,168.2 L673.0,175.7 L658.0,175.7Z" stroke="#141414" stroke-width="1.2" fill="none" />
<path d="M644.8,159.9 L641.4,170.7" stroke="#141414" stroke-width="1.2" fill="none" />
<path d="M651.4,159.9 L648.0,171.0 L644.8,174.8" stroke="#141414" stroke-width="1.2" fill="none" />
<path d="M648.0,171.0 L658.0,168.2" stroke="#141414" stroke-width="1.0" fill="none" />
<path d="M649.7,179.0 L658.0,175.7" stroke="#141414" stroke-width="1.0" fill="none" />
<path d="M611.6,160.7 L595.0,175.7 L538.3,230.0 L511.7,255.7" stroke="#141414" stroke-width="1.2" fill="none" />
<path d="M641.4,171.5C635.0,177.9 613.0,200.2 603.3,210.0C593.6,219.8 592.5,220.7 583.0,230.0C573.5,239.3 552.2,260.0 546.0,266.0" stroke="#141414" stroke-width="1.2" fill="none" />
<path d="M644.8,174.8C639.3,180.7 620.5,200.8 611.6,210.0C602.7,219.2 601.1,220.1 591.5,230.0C581.9,239.9 560.1,262.9 553.8,269.5" stroke="#141414" stroke-width="1.2" fill="none" />
<path d="M649.7,179.0C645.0,184.2 629.8,200.9 621.5,210.0C613.2,219.1 607.8,225.7 600.0,233.4C592.2,241.1 581.7,249.9 575.0,256.0C568.3,262.1 563.2,266.6 560.0,270.0C556.8,273.4 556.2,275.2 555.5,276.3" stroke="#141414" stroke-width="1.2" fill="none" />
<path d="M515.5,250.0L510.6,255.7" stroke="#141414" stroke-width="1.2" fill="none" />
<path d="M510.6,255.7C509.7,256.6 507.1,259.0 505.6,261.4C504.0,263.7 502.4,267.4 501.3,269.9C500.3,272.4 500.1,273.7 499.2,276.3C498.2,278.9 496.8,282.8 495.6,285.5C494.5,288.3 493.1,290.5 492.1,292.6C491.0,294.8 490.0,296.2 489.2,298.3C488.5,300.5 488.2,303.5 487.8,305.4C487.5,307.3 487.2,309.0 487.1,309.7" stroke="#141414" stroke-width="1.2" fill="none" />
<path d="M510.6,255.7 L526.9,259.2" stroke="#141414" stroke-width="1.2" fill="none" />
<path d="M532.6,262.1 L545.4,265.6" stroke="#141414" stroke-width="1.2" fill="none" />
<g transform="translate(533.6,256) rotate(-35)"><rect x="-2.8" y="-6.5" width="5.6" height="13" rx="2.8" fill="#fff" stroke="#111" stroke-width="1.4"/></g>
<path d="M527.6,260.0C526.8,260.9 524.1,263.0 522.6,265.6C521.2,268.2 519.9,272.3 519.1,275.6C518.3,278.9 518.3,282.5 517.7,285.5C517.1,288.6 516.4,291.2 515.5,294.1C514.7,296.9 513.5,300.0 512.7,302.6C511.9,305.2 510.9,308.5 510.6,309.7" stroke="#141414" stroke-width="1.2" fill="none" />
<path d="M531.2,260.7C530.2,262.0 526.9,265.8 525.5,268.5C524.1,271.2 523.4,274.2 522.6,277.0C521.9,279.9 521.8,282.7 521.2,285.5C520.6,288.4 519.8,291.2 519.1,294.1C518.4,296.9 517.7,300.0 517.0,302.6C516.2,305.2 515.2,308.5 514.8,309.7" stroke="#141414" stroke-width="1.2" fill="none" />
<path d="M499.9,274.9 L518.4,279.9" stroke="#141414" stroke-width="1.2" fill="none" />
<path d="M499.9,277.7 L518.4,282.0" stroke="#141414" stroke-width="1.2" fill="none" />
<path d="M521.9,283.4 L545.4,287.7" stroke="#141414" stroke-width="1.2" fill="none" />
<path d="M521.9,285.5 L539.7,288.7" stroke="#141414" stroke-width="1.2" fill="none" />
<path d="M493.5,291.2 L514.1,297.6" stroke="#141414" stroke-width="1.2" fill="none" />
<path d="M492.1,294.1 L512.7,300.5" stroke="#141414" stroke-width="1.2" fill="none" />
<path d="M518.4,299.0 L538.3,304.7" stroke="#141414" stroke-width="1.2" fill="none" />
<path d="M545.4,265.6C546.1,266.3 548.5,267.8 549.7,269.9C550.8,272.0 552.0,275.6 552.5,278.4C553.0,281.3 552.7,284.4 552.5,287.0C552.3,289.6 551.8,291.5 551.1,294.1C550.4,296.7 548.9,300.0 548.2,302.6C547.5,305.2 547.0,308.5 546.8,309.7" stroke="#141414" stroke-width="1.2" fill="none" />
<path d="M541.1,269.9C540.9,271.3 540.1,275.6 539.7,278.4C539.3,281.3 539.5,284.1 539.0,287.0C538.5,289.8 537.7,292.2 536.9,295.5C536.0,298.8 534.6,304.5 534.0,306.9C533.4,309.2 533.4,309.2 533.3,309.7" stroke="#141414" stroke-width="1.2" fill="none" />
<path d="M552.5,269.9C553.2,271.3 555.8,275.1 556.8,278.4C557.7,281.7 557.9,286.2 558.2,289.8C558.4,293.4 558.3,296.4 558.2,299.8C558.1,303.1 557.6,308.0 557.5,309.7" stroke="#141414" stroke-width="1.2" fill="none" />
<path d="M539,285.5 L551,285.5 L551,289.1 L539,289.1 Z" fill="#111"/>
<path d="M541.1,292.6 L551.1,291.2 L546.8,301.2" stroke="#141414" stroke-width="1.1" fill="none" />
<path d="M491.3,295.0C491.0,296.4 490.2,301.4 489.6,303.3C489.1,305.2 488.5,304.7 488.0,306.6C487.4,308.6 486.7,311.3 486.3,314.9C485.9,318.5 485.7,324.3 485.5,328.2C485.2,332.1 484.8,336.5 484.6,338.2" stroke="#141414" stroke-width="1.2" fill="none" />
<path d="M484.6,338.2 L529.5,350.6" stroke="#141414" stroke-width="1.2" fill="none" />
<path d="M484.6,338.2C484.8,339.0 484.1,341.2 485.5,343.1C486.9,345.1 490.3,348.3 492.9,349.8C495.6,351.3 495.4,350.5 501.2,352.3C507.1,354.1 522.8,359.1 527.8,360.6C532.8,362.0 530.6,361.0 531.1,361.1" stroke="#141414" stroke-width="1.2" fill="none" />
<path d="M489.6,298.3 L531.1,306.6 L556.0,307.5" stroke="#141414" stroke-width="1.2" fill="none" />
<ellipse cx="508.8" cy="318.6" rx="10" ry="14.5" fill="none" stroke="#111" stroke-width="1.5"/>
<path d="M508.7,306.6C508.4,308.6 506.6,314.1 507.1,318.2C507.5,322.4 510.5,329.3 511.2,331.5" stroke="#141414" stroke-width="2.0" fill="none" />
<path d="M528.8,306.2 L527.9,351.3" stroke="#141414" stroke-width="1.2" fill="none" />
<path d="M535.1,307.1 L535.1,352.2" stroke="#141414" stroke-width="1.2" fill="none" />
<path d="M528.8,306.2 L535.1,307.1" stroke="#141414" stroke-width="1.2" fill="none" />
<path d="M551.3,307.1 L551.3,349.5" stroke="#141414" stroke-width="1.2" fill="none" />
<path d="M557.6,307.1 L557.3,350.4" stroke="#141414" stroke-width="1.2" fill="none" />
<path d="M535.1,308.0C536.2,309.5 541.1,313.4 541.4,317.0C541.7,320.6 537.7,327.5 536.9,329.6" stroke="#141414" stroke-width="1.2" fill="none" />
<path d="M534.2,345.9C535.4,346.6 538.6,350.1 541.4,350.4C544.3,350.7 549.7,348.1 551.3,347.7" stroke="#141414" stroke-width="1.2" fill="none" />
<path d="M527.9,351.3C528.1,352.5 527.5,356.7 528.8,358.5C530.2,360.3 532.7,361.8 536.0,362.1C539.3,362.4 545.2,361.8 548.6,360.3C552.1,358.8 555.4,354.3 556.7,353.1" stroke="#141414" stroke-width="1.2" fill="none" />
<path d="M528.8,306.2C530.0,304.7 533.6,299.3 536.0,297.2C538.4,295.1 540.2,294.2 543.2,293.6C546.2,293.0 551.6,292.4 554.0,293.6C556.4,294.8 557.0,298.6 557.6,300.8C558.2,303.1 557.6,306.1 557.6,307.1" stroke="#141414" stroke-width="1.1" fill="none" />
<path d="M565.7,353.6 C561,354 559.5,359 560.5,362 C561.5,365 563,366 564,365.7" stroke="#141414" stroke-width="1.3" fill="none" />
<path d="M565.7,353.6 L595.0,361.4 L622.1,367.9" stroke="#141414" stroke-width="1.9" fill="none" />
<path d="M563.6,365.7 L593.6,374.3 L617.9,383.6" stroke="#141414" stroke-width="1.9" fill="none" />
<path d="M594.0,362.5C595.5,361.4 599.2,361.1 601.0,361.5C602.8,361.9 604.4,363.1 605.0,365.0C605.6,366.9 605.5,371.2 604.5,373.0C603.5,374.8 600.8,375.7 599.0,376.0C597.2,376.3 594.6,376.3 593.5,375.0C592.4,373.7 592.2,370.1 592.3,368.0C592.4,365.9 592.5,363.6 594.0,362.5Z" stroke="#141414" stroke-width="1.7" fill="none" />
<path d="M625.0,366.4 L632.1,363.6 L640.7,367.9 L646.4,376.4 L645.0,386.4 L635.0,395.0 L625.0,390.7 L622.1,380.7Z" stroke="#141414" stroke-width="1.3" fill="#fff" />
<path d="M622.1,367.9 L617.9,372.1 L617.9,383.6 L622.1,387.9 L625.0,390.7" stroke="#141414" stroke-width="1.3" fill="none" />
<path d="M622.1,367.9 L625.0,366.4" stroke="#141414" stroke-width="1.3" fill="none" />
<circle cx="635.5" cy="379" r="10.5" fill="none" stroke="#111" stroke-width="1.1"/>
</svg>
</body></html>
